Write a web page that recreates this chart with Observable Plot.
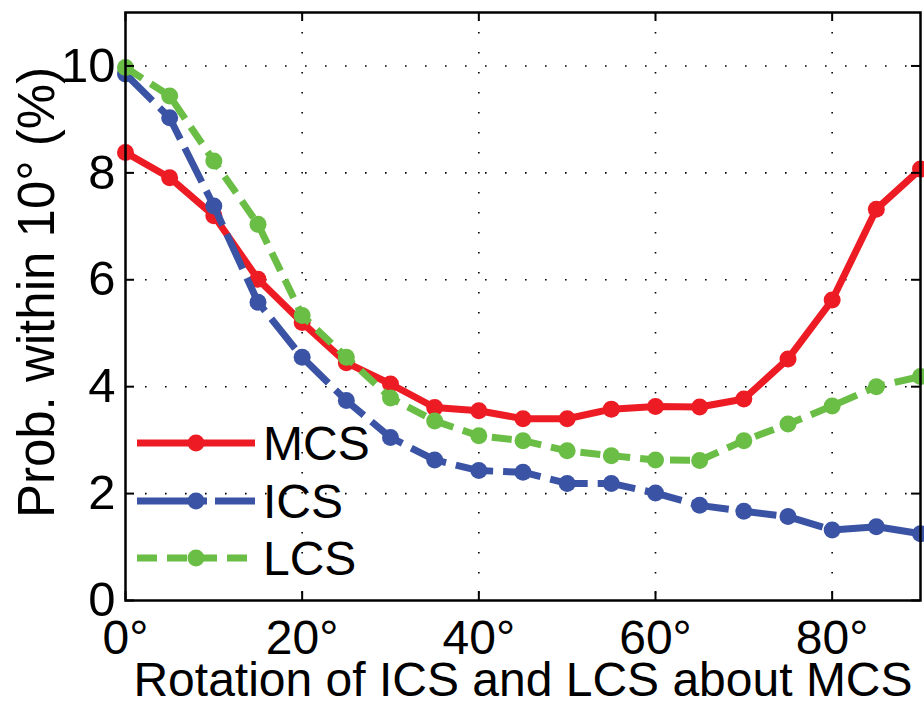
<!DOCTYPE html>
<html><head><meta charset="utf-8">
<script src="https://cdn.jsdelivr.net/npm/d3@7"></script>
<script src="https://cdn.jsdelivr.net/npm/@observablehq/plot@0.6"></script>
<style>
body{margin:0;background:#fff;}
#wrap{position:relative;width:924px;height:715px;}
svg text{font-family:"Liberation Sans",Arial,Helvetica,sans-serif;}
#legend{position:absolute;left:0;top:0;}
</style>
</head><body><div id="wrap"></div>
<script>
const angles = [0,5,10,15,20,25,30,35,40,45,50,55,60,65,70,75,80,85,90];
const mcs = [8.38,7.91,7.20,6.01,5.20,4.45,4.05,3.61,3.55,3.40,3.40,3.58,3.63,3.62,3.77,4.52,5.62,7.32,8.07];
const ics = [9.85,9.03,7.38,5.58,4.55,3.74,3.05,2.63,2.43,2.40,2.19,2.19,2.01,1.78,1.67,1.57,1.32,1.38,1.25];
const lcs = [9.97,9.44,8.22,7.04,5.33,4.55,3.79,3.36,3.08,2.99,2.80,2.71,2.63,2.62,2.99,3.30,3.64,4.00,4.19];
const seriesNames = ["MCS","ICS","LCS"];
const seriesValues = [mcs, ics, lcs];
const seriesColors = ["#ED1C24","#3A53A4","#6ABD45"];
const seriesDash = [null,"38,10","20,10"];
const xTicks = [0,20,40,60,80];
const yTicks = [0,2,4,6,8,10];
const xLabel = "Rotation of ICS and LCS about MCS";
const yLabel = "Prob. within 10° (%)";

const W = 924, H = 715, mL = 125, mR = 4, mT = 12, mB = 115;
const plotH = H - mT - mB, plotW = W - mL - mR;

const rows = seriesNames.map((s, k) => angles.map((a, i) => ({angle: a, value: seriesValues[k][i], series: s})));

const marks = [
  Plot.gridX(xTicks.filter(d => d > 0), {stroke: "#000", strokeOpacity: 1, strokeWidth: 1.6, strokeDasharray: "1.6,18.4"}),
  Plot.gridY(yTicks.filter(d => d > 0), {stroke: "#000", strokeOpacity: 1, strokeWidth: 1.6, strokeDasharray: "1.6,18.4"}),
];
seriesNames.forEach((s, k) => {
  marks.push(Plot.line(rows[k], {x: "angle", y: "value", stroke: seriesColors[k], strokeWidth: 7, strokeDasharray: seriesDash[k] || undefined, strokeLinecap: "butt", strokeLinejoin: "round"}));
  marks.push(Plot.dot(rows[k], {x: "angle", y: "value", r: 8.5, fill: seriesColors[k], stroke: "none"}));
});
marks.push(
  Plot.tickX(xTicks, {x: d => d, insetTop: plotH - 9, stroke: "#000", strokeWidth: 2}),
  Plot.tickX(xTicks, {x: d => d, insetBottom: plotH - 9, stroke: "#000", strokeWidth: 2}),
  Plot.tickY(yTicks, {y: d => d, insetRight: plotW - 9, stroke: "#000", strokeWidth: 2}),
  Plot.tickY(yTicks, {y: d => d, insetLeft: plotW - 9, stroke: "#000", strokeWidth: 2}),
  Plot.frame({stroke: "#000", strokeWidth: 2.5}),
  Plot.axisX({ticks: xTicks, tickSize: 0, tickPadding: 19, tickFormat: d => `${d}°`, fontSize: 48, label: null}),
  Plot.axisY({ticks: yTicks, tickSize: 0, tickPadding: 10, tickFormat: d => `${d}`, fontSize: 49, label: null}),
  Plot.text([xLabel], {text: d => d, frameAnchor: "bottom", textAnchor: "middle", dy: 95, lineAnchor: "bottom", fontSize: 48, fill: "#000"}),
  Plot.text([yLabel], {text: d => d, frameAnchor: "left", textAnchor: "middle", rotate: -90, dx: -72, dy: -14, lineAnchor: "bottom", fontSize: 51, fill: "#000"})
);

const chart = Plot.plot({
  width: W, height: H,
  marginLeft: mL, marginRight: mR, marginTop: mT, marginBottom: mB,
  x: {domain: [0, 90]},
  y: {domain: [0, 11]},
  style: {background: "#fff", color: "#000", fontFamily: "'Liberation Sans', Arial, Helvetica, sans-serif"},
  marks
});
const wrap = document.getElementById("wrap");
wrap.appendChild(chart);

// legend overlay (inside the plot, bottom-left)
const leg = d3.select(wrap).append("svg").attr("id", "legend").attr("width", W).attr("height", H);
const legY = [443, 501, 558];
seriesNames.forEach((s, k) => {
  const g = leg.append("g").attr("transform", `translate(0,${legY[k]})`);
  g.append("line").attr("x1", 137).attr("x2", 255).attr("y1", 0).attr("y2", 0)
    .attr("stroke", seriesColors[k]).attr("stroke-width", 7)
    .attr("stroke-dasharray", seriesDash[k] ? (k === 1 ? "70,8,40" : "20,10") : null);
  g.append("circle").attr("cx", 196).attr("cy", 0).attr("r", 8.5).attr("fill", seriesColors[k]);
  g.append("text").attr("x", 263).attr("y", 0).attr("dy", "0.36em").attr("font-size", 48).attr("fill", "#000").text(s);
});
</script>
</body></html>
